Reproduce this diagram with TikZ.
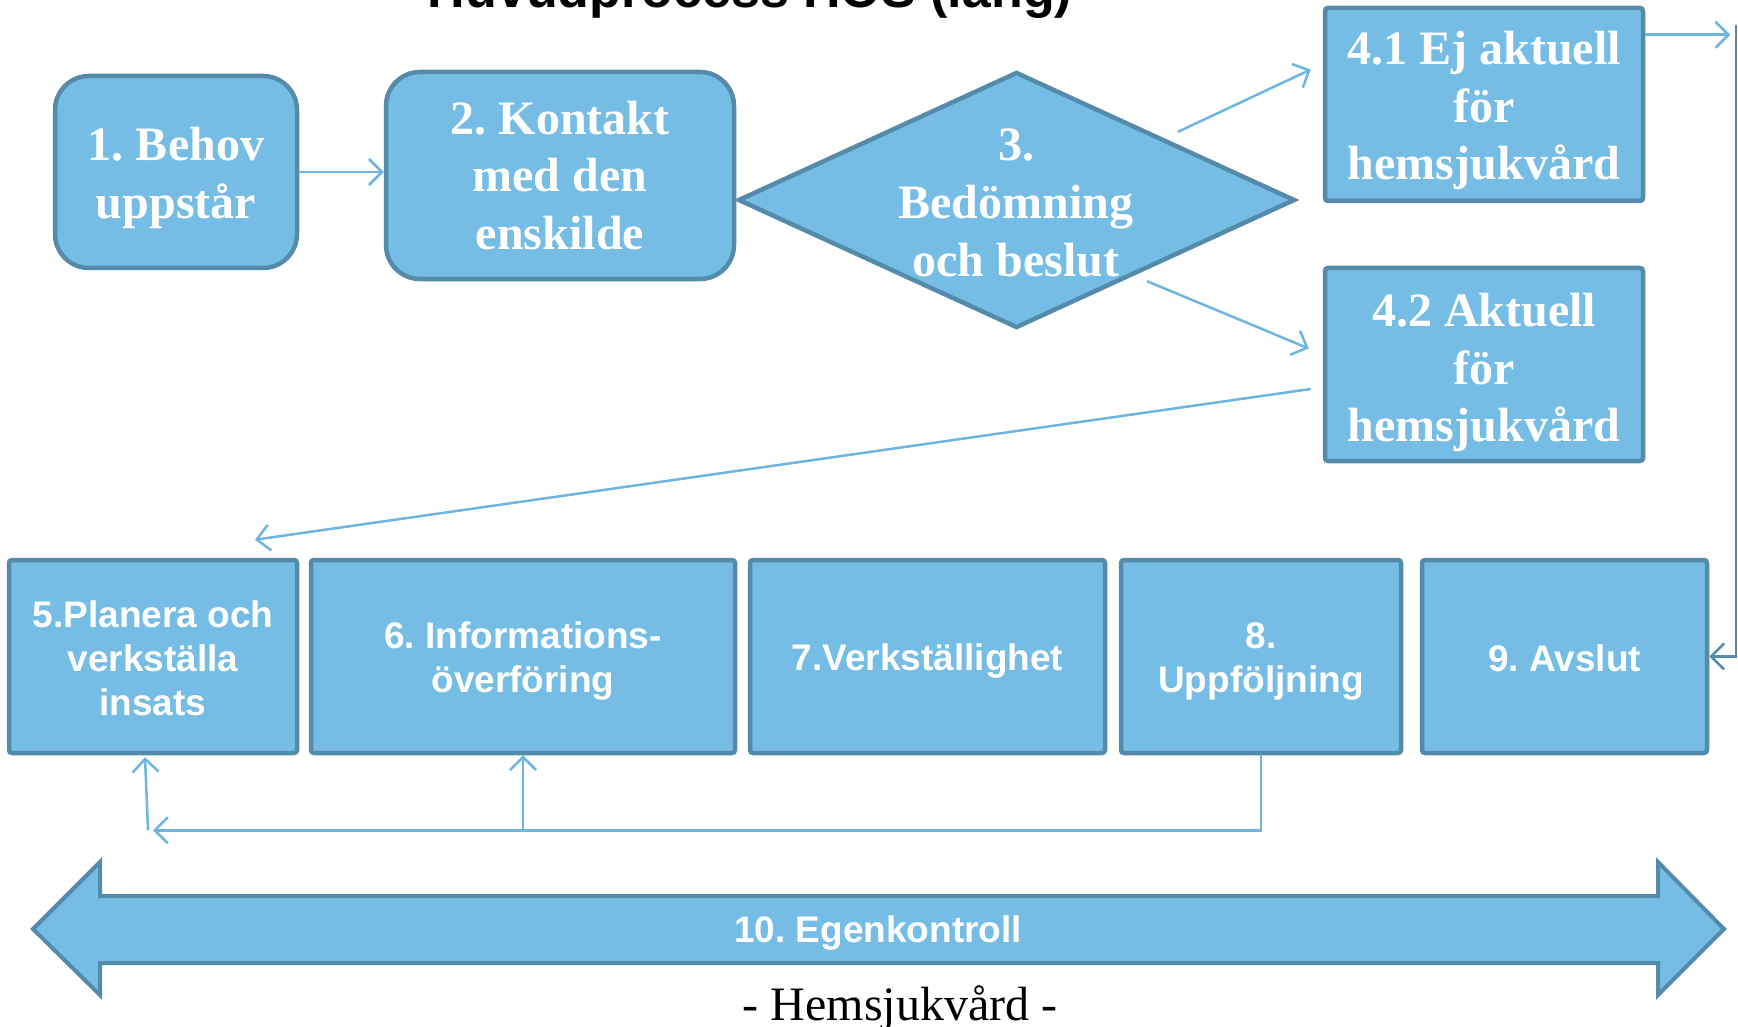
\documentclass[tikz,border=0pt]{standalone}
\usepackage{fontspec}
\setmainfont{Liberation Serif}
\newfontfamily\arialfont{Liberation Sans}
\usetikzlibrary{shapes.geometric,arrows.meta,calc}
\definecolor{boxfill}{RGB}{117,189,229}
\definecolor{boxedge}{RGB}{84,139,170}
\definecolor{conn}{RGB}{110,182,225}
\tikzset{
  pbox/.style={draw=boxedge, fill=boxfill, line width=4.5pt, rounded corners=3pt, inner sep=0pt},
  rbox/.style={pbox, rounded corners=34pt},
  serif/.style={text=white, align=center, inner sep=0pt, yshift=-6pt, font=\frenchspacing\bfseries\fontsize{48}{57.6}\selectfont},
  sans/.style={text=white, align=center, inner sep=0pt, yshift=-5pt, font=\frenchspacing\arialfont\bfseries\fontsize{37}{44}\selectfont},
  conline/.style={draw=conn, line width=2.5pt},
  darkline/.style={draw=boxedge, line width=2.5pt},
  tip/.style={-{Straight Barb[length=13pt,width=26pt,line width=2.5pt]}},
}
\begin{document}
\begin{tikzpicture}[x=1pt,y=-1pt]
\useasboundingbox (0,0) rectangle (1738,1027);
\clip (0,0) rectangle (1738,1027);
\fill[white] (0,0) rectangle (1738,1027);

% title (mostly cut off at top, as in the reference)
\node[anchor=base, font=\arialfont\bfseries\fontsize{52}{60}\selectfont, inner sep=0pt] (title) at (750,8) {Huvudprocess HOS (lång)};

% top row
\node[rbox, minimum width=242pt, minimum height=192pt] (b1) at (176,172) {};
\node[serif] (b1t) at (b1) {1. Behov\\uppstår};
\node[rbox, minimum width=348pt, minimum height=207pt] (b2) at (560,175.5) {};
\node[serif, yshift=6pt] (b2t) at (b2) {2. Kontakt\\med den\\enskilde};
\node[draw=boxedge, fill=boxfill, line width=4.5pt, diamond, inner sep=0pt,
      minimum width=557pt, minimum height=256pt, aspect=2.18] (d3) at (1016.5,200) {};
\node[serif] (d3t) at (1016,197) {3.\\Bedömning\\och beslut};
\node[pbox, minimum width=318pt, minimum height=193pt] (b41) at (1484,104.5) {};
\node[serif] (b41t) at (b41) {4.1 Ej aktuell\\för\\hemsjukvård};
\node[pbox, minimum width=318pt, minimum height=193pt] (b42) at (1484,364.5) {};
\node[serif, yshift=-2pt] (b42t) at (b42) {4.2 Aktuell\\för\\hemsjukvård};

% bottom row
\node[pbox, minimum width=288pt, minimum height=193pt] (b5) at (153,656.5) {};
\node[sans, yshift=3pt] (b5t) at (b5) {5.Planera och\\verkställa\\insats};
\node[pbox, minimum width=424pt, minimum height=193pt] (b6) at (523,656.5) {};
\node[sans] (b6t) at (b6) {6. Informations-\\överföring};
\node[pbox, minimum width=355pt, minimum height=193pt] (b7) at (927.5,656.5) {};
\node[sans] (b7t) at (b7) {7.Verkställighet};
\node[pbox, minimum width=280pt, minimum height=193pt] (b8) at (1261,656.5) {};
\node[sans] (b8t) at (b8) {8.\\Uppföljning};
\node[pbox, minimum width=285pt, minimum height=193pt] (b9) at (1564.5,656.5) {};
\node[sans, yshift=3pt] (b9t) at (b9) {9. Avslut};

% connectors
\draw[conline, tip] (b1.east) -- (b1.east -| b2.west);
\draw[conline, tip] ($(d3.north east)+(21,-3)$) -- ($(b41.west)+(-12,-35)$);
\draw[conline, tip] ($(d3.south east)+(-10,16)$) -- ($(b42.west)+(-14,-16)$);
\draw[conline, tip] ($(b42.west)+(-12,24.5)$) -- ($(b5.north)+(102,-18)$);
\coordinate (r1) at ($(b41.north east)+(85,29)$);
\draw[conline, tip] (b41.north east |- r1) -- (r1);
\coordinate (rtop) at (1736,25);
\draw[darkline, tip] (rtop) |- (b9.east);
\coordinate (fb) at ($(b8.south)+(0,75)$);
\coordinate (fbl) at ($(b5.south |- fb)+(0,0)$);
\draw[conline, tip] (b8.south) -- (fb) -- (fbl);
\draw[conline, tip] (b6.south |- fb) -- (b6.south);
\draw[conline, tip] ($(fbl)+(-5,0)$) -- ($(b5.south)+(-8,2)$);

% double arrow
\draw[draw=boxedge, fill=boxfill, line width=4pt, line join=miter]
  (33,929) -- (100,862) -- (100,896) -- (1658,896) -- (1658,862) -- (1724,929)
  -- (1658,995) -- (1658,963) -- (100,963) -- (100,995) -- cycle;
\node[sans, yshift=1pt] (b10t) at (878,929) {10. Egenkontroll};

% footer
\node[anchor=base, inner sep=0pt, font=\fontsize{48}{56}\selectfont] (foot) at (900,1020) {- Hemsjukvård -};
\end{tikzpicture}
\end{document}
